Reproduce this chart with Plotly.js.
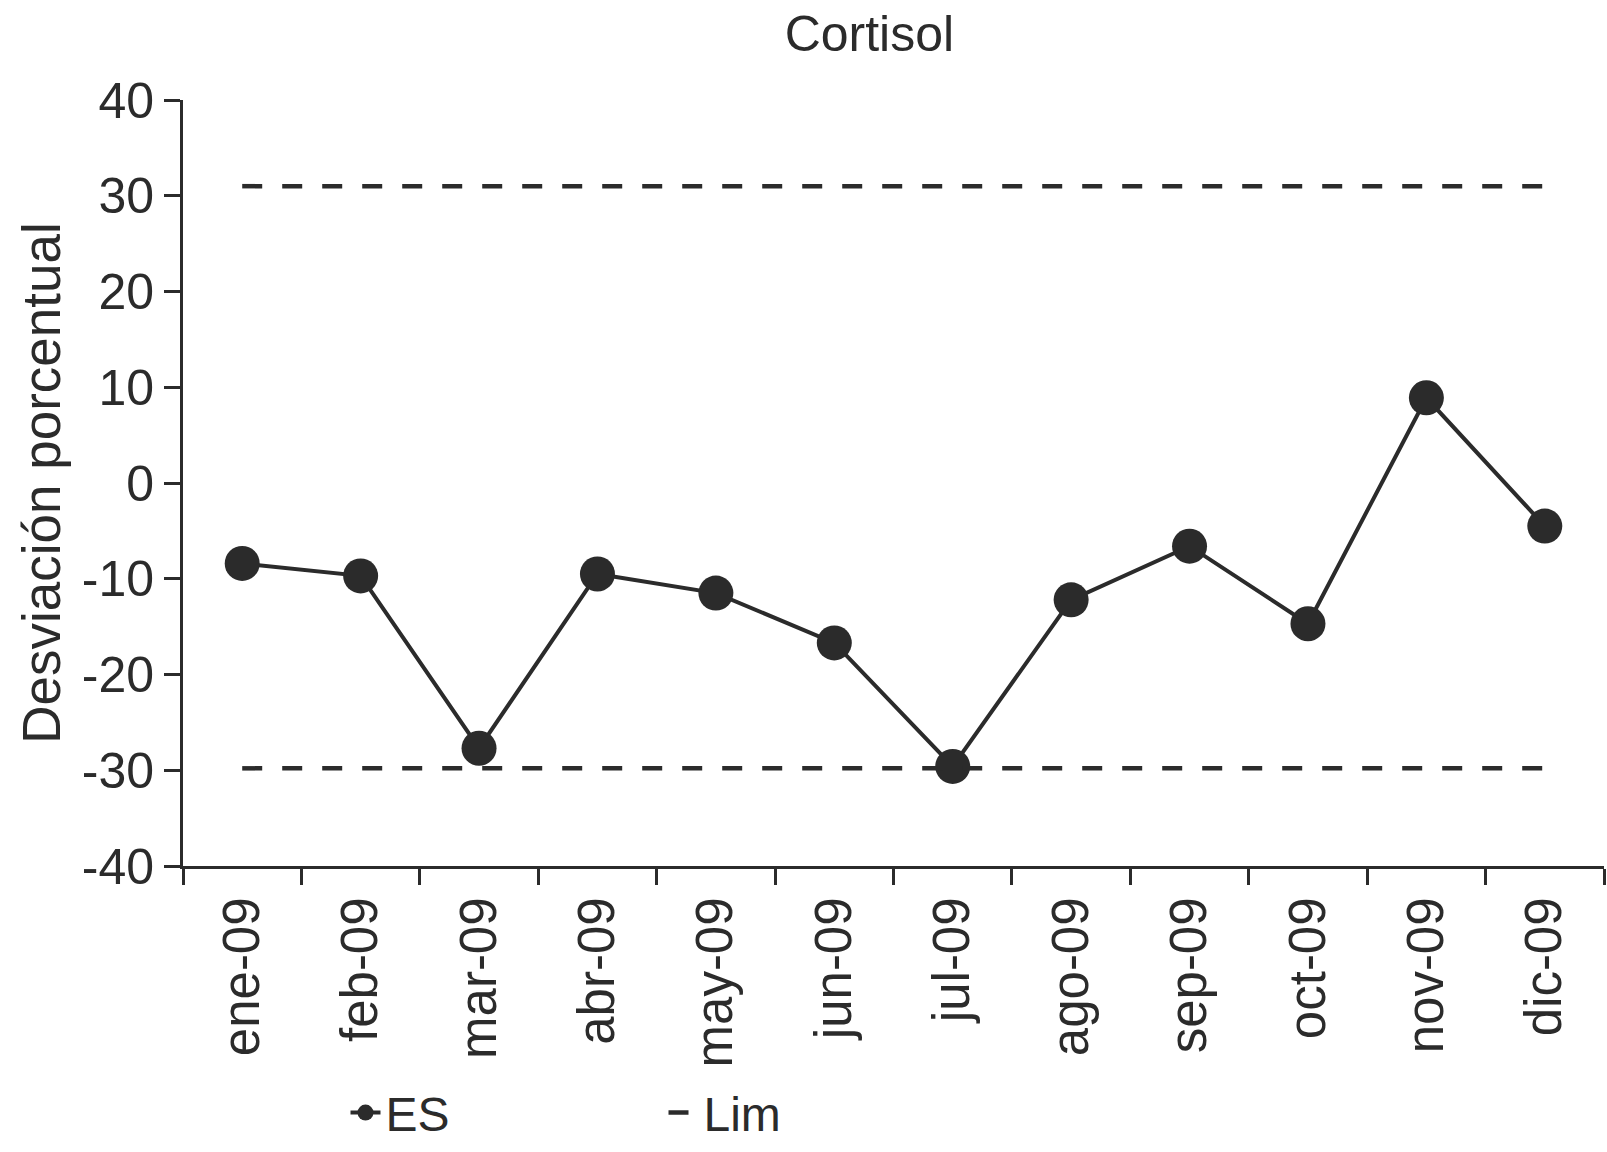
<!DOCTYPE html>
<html>
<head>
<meta charset="utf-8">
<script src="https://cdn.plot.ly/plotly-3.0.1.min.js"></script>
<style>html,body{margin:0;padding:0;background:#fff;}#chart{width:1607px;height:1152px;}</style>
</head>
<body>
<div id="chart"></div>
<script>
const months = ["ene-09","feb-09","mar-09","abr-09","may-09","jun-09","jul-09","ago-09","sep-09","oct-09","nov-09","dic-09"];
const esValues = [-8.4, -9.7, -27.7, -9.5, -11.5, -16.7, -29.6, -12.2, -6.6, -14.7, 8.9, -4.5];
const limUpper = [31, 31, 31, 31, 31, 31, 31, 31, 31, 31, 31, 31];
const limLower = [-29.8, -29.8, -29.8, -29.8, -29.8, -29.8, -29.8, -29.8, -29.8, -29.8, -29.8, -29.8];
const yTickVals = [-40, -30, -20, -10, 0, 10, 20, 30, 40];
const yTickText = ["-40", "-30", "-20", "-10", "0", "10", "20", "30", "40"];

const ink = "#2b2b2b";
const fontFam = "Liberation Sans, Arial, sans-serif";

const traces = [
  {x: months, y: esValues, name: "ES", type: "scatter", mode: "lines+markers",
   line: {color: ink, width: 4}, marker: {color: ink, size: 35}},
  {x: months, y: limUpper, name: "Lim", type: "scatter", mode: "lines", legendgroup: "lim",
   line: {color: ink, width: 4.5, dash: "20px,20px"}},
  {x: months, y: limLower, name: "Lim", type: "scatter", mode: "lines", legendgroup: "lim", showlegend: false,
   line: {color: ink, width: 4.5, dash: "20px,20px"}}
];

const layout = {
  width: 1607, height: 1152,
  paper_bgcolor: "#fff", plot_bgcolor: "#fff",
  font: {family: fontFam, color: ink},
  margin: {l: 183, r: 3, t: 100, b: 286},
  title: {text: "Cortisol", font: {size: 50, color: ink}, x: 0.541, xanchor: "center", y: 0.986, yanchor: "top", yref: "container"},
  xaxis: {
    type: "category", range: [-0.5, 11.5], tickson: "boundaries",
    showline: true, linecolor: ink, linewidth: 3, showgrid: false, zeroline: false,
    ticks: "outside", ticklen: 16, tickwidth: 3, tickcolor: ink,
    tickangle: -90, tickfont: {size: 51, color: ink}, ticklabelstandoff: 8
  },
  yaxis: {
    range: [-40, 40], tickmode: "array", tickvals: yTickVals, ticktext: yTickText,
    showline: true, linecolor: ink, linewidth: 3, showgrid: false, zeroline: false,
    ticks: "outside", ticklen: 16, tickwidth: 3, tickcolor: ink,
    tickfont: {size: 50, color: ink},
    title: {text: "Desviación porcentual", font: {size: 53, color: ink}, standoff: 5}
  },
  showlegend: true,
  legend: {orientation: "h", xref: "container", yref: "container", x: 0.215, xanchor: "left", y: 0.034, yanchor: "middle",
           font: {size: 48, color: ink}, entrywidth: 273, entrywidthmode: "pixels", bgcolor: "rgba(0,0,0,0)"}
};

Plotly.newPlot("chart", traces, layout, {displayModeBar: false, staticPlot: true});
</script>
</body>
</html>
